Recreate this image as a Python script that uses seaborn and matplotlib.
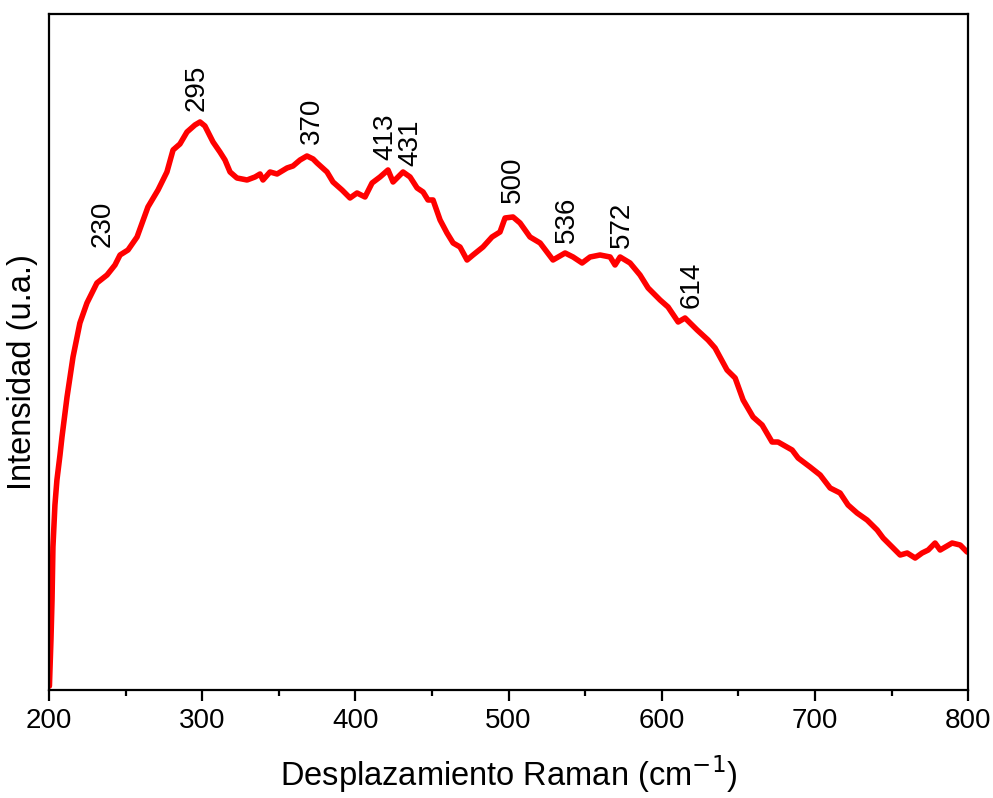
import matplotlib
matplotlib.use("Agg")
import matplotlib.pyplot as plt
import seaborn as sns
import pandas as pd
from matplotlib.ticker import MultipleLocator

# ---- data ----
raman_shift = [200.3, 201.3, 202.0, 202.6, 203.9, 205.2, 207.2, 208.5, 211.8, 215.7,
               220.2, 224.8, 231.3, 237.9, 243.1, 246.4, 251.6, 257.5, 264.6, 271.2,
               277.0, 281.0, 285.5, 290.1, 295.3, 298.6, 301.8, 307.1, 311.6, 314.9,
               318.2, 322.7, 329.3, 334.5, 337.8, 339.7, 344.3, 348.9, 355.4, 359.3,
               363.9, 368.4, 372.4, 375.0, 381.5, 385.4, 391.3, 396.5, 401.1, 406.3,
               410.9, 416.1, 421.3, 424.6, 431.1, 435.7, 440.3, 444.2, 447.4, 450.7,
               455.3, 459.8, 463.8, 468.3, 472.9, 476.8, 483.3, 489.2, 494.4, 497.7,
               502.9, 507.5, 514.0, 520.6, 529.0, 536.9, 542.1, 548.0, 553.2, 559.7,
               566.3, 569.5, 572.8, 579.3, 585.8, 591.1, 598.9, 604.1, 610.7, 615.2,
               623.1, 630.2, 634.8, 642.6, 647.9, 653.1, 659.6, 665.5, 672.0, 675.9,
               685.1, 689.0, 696.8, 703.4, 709.9, 716.4, 721.6, 727.5, 734.0, 740.6,
               744.5, 750.4, 755.6, 760.2, 765.4, 769.9, 773.9, 778.4, 781.7, 789.5,
               794.8, 799.3]
intensity = [2, 48, 88, 141, 183, 208, 233, 251, 291, 331,
             365, 385, 405, 413, 423, 433, 438, 451, 481, 498,
             516, 538, 544, 556, 563, 566, 562, 546, 536, 528,
             516, 510, 508, 511, 514, 508, 516, 514, 520, 522,
             528, 532, 529, 525, 516, 506, 498, 490, 495, 491,
             505, 511, 518, 506, 516, 511, 500, 496, 488, 488,
             468, 455, 445, 441, 428, 433, 441, 451, 456, 470,
             471, 465, 451, 445, 428, 435, 431, 425, 431, 433,
             431, 423, 431, 425, 413, 400, 388, 381, 366, 370,
             358, 348, 340, 318, 310, 288, 271, 263, 246, 246,
             238, 230, 221, 213, 200, 195, 183, 175, 168, 158,
             150, 141, 133, 135, 130, 135, 138, 145, 138, 145,
             143, 136]

peak_labels = ["230", "295", "370", "413", "431", "500", "536", "572", "614"]
label_anchor_x = [235.3, 296.6, 371.7, 419.4, 435.7, 502.9, 538.2, 574.1, 619.8]
label_anchor_y = [441, 577, 544, 528, 522, 485, 445, 440, 380]

x_ticks = [200, 300, 400, 500, 600, 700, 800]

df = pd.DataFrame({"shift": raman_shift, "intensity": intensity})

sns.set_style("ticks")
plt.rcParams["font.family"] = ["Liberation Sans", "DejaVu Sans"]

fig = plt.figure(figsize=(9.93, 7.98), dpi=100)
ax = fig.add_axes([0.0493, 0.1353, 0.9257, 0.8472])

sns.lineplot(data=df, x="shift", y="intensity", ax=ax, color="#ff0000",
             linewidth=4.0, estimator=None, sort=False)

for lab, lx, ly in zip(peak_labels, label_anchor_x, label_anchor_y):
    ax.text(lx, ly, lab, rotation=90, ha="center", va="bottom",
            fontsize=20, color="black")

ax.set_xlim(200, 800)
ax.set_ylim(-2, 674)
ax.set_xticks(x_ticks)
ax.set_xticklabels([str(t) for t in x_ticks])
ax.xaxis.set_minor_locator(MultipleLocator(50))
ax.set_yticks([])
ax.tick_params(axis="x", which="major", direction="out", length=8, width=1.6,
               labelsize=20, pad=5, top=False, colors="black", labelcolor="black")
ax.tick_params(axis="x", which="minor", direction="out", length=4.5, width=1.6,
               top=False, colors="black")

for s in ax.spines.values():
    s.set_visible(True)
    s.set_linewidth(1.6)
    s.set_color("black")

ax.set_xlabel("Desplazamiento Raman (cm$^{-1}$)", fontsize=23.5, labelpad=14,
              color="black")
ax.set_ylabel("Intensidad (u.a.)", fontsize=23.5, color="black")
ax.yaxis.set_label_coords(-0.012, 0.47)

fig.savefig("out.png", dpi=100)
